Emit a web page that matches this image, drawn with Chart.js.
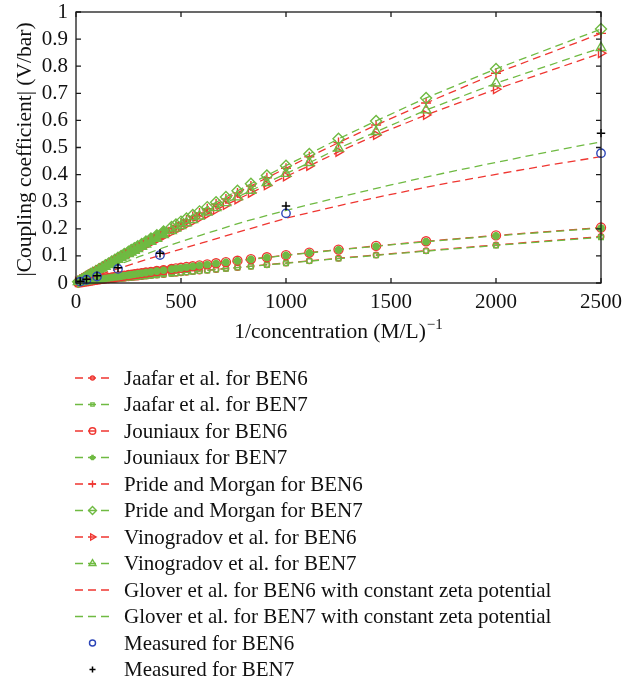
<!DOCTYPE html>
<html>
<head>
<meta charset="utf-8">
<script src="https://cdn.jsdelivr.net/npm/chart.js@4.4.1/dist/chart.umd.min.js"></script>
<style>
  html, body { margin: 0; padding: 0; background: #fff; }
  #wrap { width: 622px; height: 680px; position: relative; }
</style>
</head>
<body>
<div id="wrap"><canvas id="chart"></canvas></div>
<script>
// 1/concentration values where the models are evaluated
const xModel = [10, 20, 30, 40, 50, 60, 70, 80, 95, 110, 125, 140, 155, 170, 185, 200,
  215, 230, 250, 263, 278, 294, 313, 333, 357, 385, 417, 455, 476, 500,
  526, 556, 588, 625, 667, 714, 769, 833, 909, 1000, 1111, 1250, 1429, 1667, 2000, 2500];

const jaafarBen6 = [0.0008, 0.0015, 0.0023, 0.0031, 0.0039, 0.0047, 0.0054, 0.0062, 0.0073, 0.0085, 0.0097, 0.0108, 0.0120, 0.0131, 0.0142, 0.0154,
  0.0165, 0.0176, 0.0192, 0.0202, 0.0213, 0.0225, 0.0239, 0.0254, 0.0273, 0.0293, 0.0317, 0.0346, 0.0361, 0.0379,
  0.0397, 0.0420, 0.0443, 0.0470, 0.0501, 0.0535, 0.0575, 0.0620, 0.0675, 0.0739, 0.0817, 0.0913, 0.1034, 0.1192, 0.1406, 0.1713];
const jaafarBen7 = [0.0008, 0.0015, 0.0023, 0.0031, 0.0038, 0.0046, 0.0053, 0.0061, 0.0072, 0.0084, 0.0095, 0.0106, 0.0118, 0.0129, 0.0140, 0.0152,
  0.0163, 0.0174, 0.0189, 0.0199, 0.0210, 0.0222, 0.0236, 0.0251, 0.0269, 0.0289, 0.0313, 0.0341, 0.0356, 0.0374,
  0.0392, 0.0414, 0.0437, 0.0464, 0.0494, 0.0528, 0.0567, 0.0612, 0.0666, 0.0729, 0.0806, 0.0900, 0.1020, 0.1175, 0.1386, 0.1688];
const jouniauxBen6 = [0.0012, 0.0025, 0.0037, 0.0049, 0.0061, 0.0073, 0.0086, 0.0098, 0.0116, 0.0133, 0.0151, 0.0169, 0.0186, 0.0204, 0.0221, 0.0238,
  0.0255, 0.0272, 0.0295, 0.0309, 0.0326, 0.0344, 0.0365, 0.0386, 0.0412, 0.0442, 0.0476, 0.0516, 0.0538, 0.0562,
  0.0588, 0.0619, 0.0650, 0.0687, 0.0727, 0.0772, 0.0823, 0.0882, 0.0949, 0.1028, 0.1121, 0.1233, 0.1369, 0.1539, 0.1756, 0.2046];
const jouniauxBen7 = [0.0012, 0.0025, 0.0037, 0.0049, 0.0060, 0.0072, 0.0085, 0.0097, 0.0115, 0.0132, 0.0149, 0.0167, 0.0184, 0.0202, 0.0219, 0.0236,
  0.0252, 0.0269, 0.0292, 0.0306, 0.0323, 0.0341, 0.0361, 0.0382, 0.0408, 0.0438, 0.0471, 0.0511, 0.0533, 0.0556,
  0.0582, 0.0613, 0.0644, 0.0680, 0.0720, 0.0764, 0.0815, 0.0873, 0.0940, 0.1018, 0.1110, 0.1221, 0.1355, 0.1524, 0.1738, 0.2026];
const prideBen6 = [0.0046, 0.0092, 0.0139, 0.0185, 0.0231, 0.0276, 0.0322, 0.0368, 0.0436, 0.0504, 0.0572, 0.0640, 0.0708, 0.0776, 0.0842, 0.0910,
  0.0976, 0.1044, 0.1133, 0.1189, 0.1256, 0.1326, 0.1409, 0.1497, 0.1602, 0.1723, 0.1861, 0.2023, 0.2113, 0.2215,
  0.2325, 0.2451, 0.2585, 0.2738, 0.2912, 0.3103, 0.3325, 0.3582, 0.3882, 0.4235, 0.4656, 0.518, 0.583, 0.664, 0.774, 0.921];
const prideBen7 = [0.0047, 0.0094, 0.0142, 0.0189, 0.0236, 0.0282, 0.0329, 0.0376, 0.0446, 0.0515, 0.0585, 0.0654, 0.0724, 0.0793, 0.0861, 0.0930,
  0.0998, 0.1067, 0.1158, 0.1216, 0.1284, 0.1356, 0.1441, 0.1531, 0.1638, 0.1762, 0.1903, 0.2069, 0.2161, 0.2265,
  0.2377, 0.2506, 0.2643, 0.2800, 0.2977, 0.3173, 0.3400, 0.3663, 0.3969, 0.433, 0.4761, 0.532, 0.598, 0.683, 0.790, 0.937];
const vinogradovBen6 = [0.0043, 0.0085, 0.0129, 0.0172, 0.0214, 0.0256, 0.0299, 0.0341, 0.0405, 0.0468, 0.0531, 0.0594, 0.0657, 0.0720, 0.0782, 0.0844,
  0.0906, 0.0969, 0.1051, 0.1104, 0.1166, 0.1231, 0.1308, 0.1390, 0.1487, 0.1600, 0.1728, 0.1879, 0.1962, 0.2057,
  0.2158, 0.2275, 0.2400, 0.2542, 0.2703, 0.2881, 0.3087, 0.3326, 0.3604, 0.3932, 0.4323, 0.484, 0.546, 0.620, 0.715, 0.848];
const vinogradovBen7 = [0.0044, 0.0088, 0.0132, 0.0176, 0.0220, 0.0263, 0.0307, 0.0350, 0.0416, 0.0480, 0.0545, 0.0610, 0.0675, 0.0739, 0.0802, 0.0867,
  0.0930, 0.0994, 0.1079, 0.1133, 0.1197, 0.1264, 0.1343, 0.1427, 0.1527, 0.1642, 0.1774, 0.1928, 0.2014, 0.2111,
  0.2215, 0.2336, 0.2463, 0.2610, 0.2775, 0.2957, 0.3169, 0.3414, 0.3699, 0.4036, 0.4437, 0.497, 0.558, 0.638, 0.737, 0.868];

// Glover et al. (constant zeta potential)
const xGlover = [0, 100, 200, 300, 400, 500, 600, 800, 1000, 1250, 1500, 1750, 2000, 2250, 2500];
const gloverBen6 = [0, 0.027, 0.053, 0.078, 0.102, 0.125, 0.148, 0.194, 0.239, 0.285, 0.327, 0.366, 0.401, 0.435, 0.466];
const gloverBen7 = [0, 0.034, 0.066, 0.097, 0.126, 0.153, 0.178, 0.226, 0.268, 0.316, 0.362, 0.405, 0.445, 0.484, 0.521];

// measurements
const xMeasured = [20, 50, 100, 200, 400, 1000, 2500];
const measuredBen6 = [0.005, 0.012, 0.024, 0.052, 0.103, 0.257, 0.479];
const measuredBen7 = [0.006, 0.014, 0.027, 0.056, 0.110, 0.284, 0.553];

const xTicks = [0, 500, 1000, 1500, 2000, 2500];
const yTicks = [0, 0.1, 0.2, 0.3, 0.4, 0.5, 0.6, 0.7, 0.8, 0.9, 1];

const RED = '#ef3631';
const GREEN = '#6fba42';
const BLUE = '#2c45b8';
const SERIF = '"Liberation Serif", "DejaVu Serif", serif';
const CLEAR = 'rgba(0,0,0,0)';

const pts = (xs, ys) => xs.map((x, i) => ({ x: x, y: ys[i] }));

// where the markers crowd together the original shows a solid band
const crowded = (color, limit) => c => (c.raw && c.raw.x < limit ? color : CLEAR);

function model(label, ys, color, style, radius, limit, extra) {
  return Object.assign({
    label: label,
    data: pts(xModel, ys),
    showLine: true,
    borderColor: color,
    borderWidth: 1.3,
    borderDash: [8, 5],
    pointStyle: style,
    pointRadius: radius,
    pointBorderColor: color,
    pointBackgroundColor: crowded(color, limit),
    pointBorderWidth: 1.4,
    clip: false
  }, extra || {});
}

const datasets = [
  model('Jaafar et al. for BEN6', jaafarBen6, RED, 'circle', 2.8, 470),
  model('Jaafar et al. for BEN7', jaafarBen7, GREEN, 'rect', 3.2, 470),
  model('Jouniaux for BEN6', jouniauxBen6, RED, 'circle', 4.5, 470),
  model('Jouniaux for BEN7', jouniauxBen7, GREEN, 'star', 3.8, 470, { pointBorderWidth: 2.6 }),
  model('Pride and Morgan for BEN6', prideBen6, RED, 'cross', 5, 420),
  model('Pride and Morgan for BEN7', prideBen7, GREEN, 'rectRot', 5.5, 420),
  model('Vinogradov et al. for BEN6', vinogradovBen6, RED, 'triangle', 5, 420, { pointRotation: 90 }),
  model('Vinogradov et al. for BEN7', vinogradovBen7, GREEN, 'triangle', 5.5, 420),
  model('Glover et al. for BEN6 with constant zeta potential', [], RED, 'circle', 0, 0, { data: pts(xGlover, gloverBen6) }),
  model('Glover et al. for BEN7 with constant zeta potential', [], GREEN, 'circle', 0, 0, { data: pts(xGlover, gloverBen7) }),
  {
    label: 'Measured for BEN6', data: pts(xMeasured, measuredBen6), showLine: false,
    pointStyle: 'circle', pointRadius: 4.2, pointBorderColor: BLUE, pointBorderWidth: 1.4,
    pointBackgroundColor: CLEAR, clip: false
  },
  {
    label: 'Measured for BEN7', data: pts(xMeasured, measuredBen7), showLine: false,
    pointStyle: 'cross', pointRadius: 4.2, pointBorderColor: '#000', pointBorderWidth: 1.5,
    pointBackgroundColor: CLEAR, clip: false
  }
];
// later series on top, as in the original figure
datasets.forEach((d, i) => { d.order = datasets.length - i; });

const frameAndLegend = {
  id: 'frameAndLegend',
  afterDraw(chart) {
    const { ctx, chartArea: a, scales } = chart;
    ctx.save();
    ctx.strokeStyle = '#1a1a1a';
    ctx.lineWidth = 1.3;
    ctx.setLineDash([]);
    ctx.strokeRect(a.left, a.top, a.right - a.left, a.bottom - a.top);
    ctx.beginPath();
    xTicks.forEach(v => {
      const px = scales.x.getPixelForValue(v);
      ctx.moveTo(px, a.bottom); ctx.lineTo(px, a.bottom - 5);
      ctx.moveTo(px, a.top); ctx.lineTo(px, a.top + 5);
    });
    yTicks.forEach(v => {
      const py = scales.y.getPixelForValue(v);
      ctx.moveTo(a.left, py); ctx.lineTo(a.left + 5, py);
      ctx.moveTo(a.right, py); ctx.lineTo(a.right - 5, py);
    });
    ctx.stroke();

    // axis titles
    ctx.fillStyle = '#111';
    ctx.textBaseline = 'alphabetic';
    ctx.font = '21.5px ' + SERIF;
    const main = '1/concentration (M/L)';
    const sup = '\u22121';
    const w1 = ctx.measureText(main).width;
    ctx.font = '15px ' + SERIF;
    const w2 = ctx.measureText(sup).width;
    const cx = (a.left + a.right) / 2;
    const tx = cx - (w1 + w2 + 1) / 2;
    ctx.font = '21.5px ' + SERIF;
    ctx.textAlign = 'left';
    ctx.fillText(main, tx, 338);
    ctx.font = '15px ' + SERIF;
    ctx.fillText(sup, tx + w1 + 1, 329);

    ctx.save();
    ctx.translate(31, (a.top + a.bottom) / 2 + 2);
    ctx.rotate(-Math.PI / 2);
    ctx.font = '21.5px ' + SERIF;
    ctx.textAlign = 'center';
    ctx.fillText('|Coupling coefficient| (V/bar)', 0, 0);
    ctx.restore();

    // legend
    chart.data.datasets.forEach((ds, i) => {
      const base = 384.5 + i * 26.5;
      const mid = base - 6.5;
      if (ds.showLine) {
        ctx.strokeStyle = ds.borderColor;
        ctx.lineWidth = 1.3;
        ctx.setLineDash([8, 5]);
        ctx.beginPath();
        ctx.moveTo(75, mid); ctx.lineTo(110, mid);
        ctx.stroke();
        ctx.setLineDash([]);
      }
      if (ds.pointRadius > 0) {
        ctx.strokeStyle = ds.pointBorderColor;
        ctx.fillStyle = CLEAR;
        ctx.lineWidth = ds.pointBorderWidth;
        Chart.helpers.drawPoint(ctx, {
          pointStyle: ds.pointStyle,
          radius: ds.pointRadius * 0.72,
          rotation: ds.pointRotation || 0,
          borderWidth: ds.pointBorderWidth
        }, 92.5, mid);
      }
      ctx.fillStyle = '#111';
      ctx.font = '21px ' + SERIF;
      ctx.textAlign = 'left';
      ctx.textBaseline = 'alphabetic';
      ctx.fillText(ds.label, 124, base);
    });
    ctx.restore();
  }
};

const zeroPad = s => { s.paddingTop = 0; s.paddingBottom = 0; s.paddingLeft = 0; s.paddingRight = 0; };

new Chart(document.getElementById('chart'), {
  type: 'scatter',
  data: { datasets: datasets },
  options: {
    responsive: true,
    maintainAspectRatio: false,
    animation: false,
    layout: { padding: { left: 0, top: 12, right: 21, bottom: 357 } },
    plugins: { legend: { display: false }, tooltip: { enabled: false } },
    scales: {
      x: {
        type: 'linear', min: 0, max: 2500,
        grid: { display: false, drawTicks: false }, border: { display: false },
        afterBuildTicks: s => { s.ticks = xTicks.map(v => ({ value: v })); },
        afterFit: s => { s.height = 40; zeroPad(s); },
        ticks: { color: '#111', font: { family: SERIF, size: 21 }, padding: 7, maxRotation: 0,
          autoSkip: false, callback: v => String(v) }
      },
      y: {
        type: 'linear', min: 0, max: 1,
        grid: { display: false, drawTicks: false }, border: { display: false },
        afterBuildTicks: s => { s.ticks = yTicks.map(v => ({ value: v })); },
        afterFit: s => { s.width = 76; zeroPad(s); },
        ticks: { color: '#111', font: { family: SERIF, size: 21 }, padding: 8,
          autoSkip: false, callback: v => String(v) }
      }
    }
  },
  plugins: [frameAndLegend]
});
</script>
</body>
</html>
